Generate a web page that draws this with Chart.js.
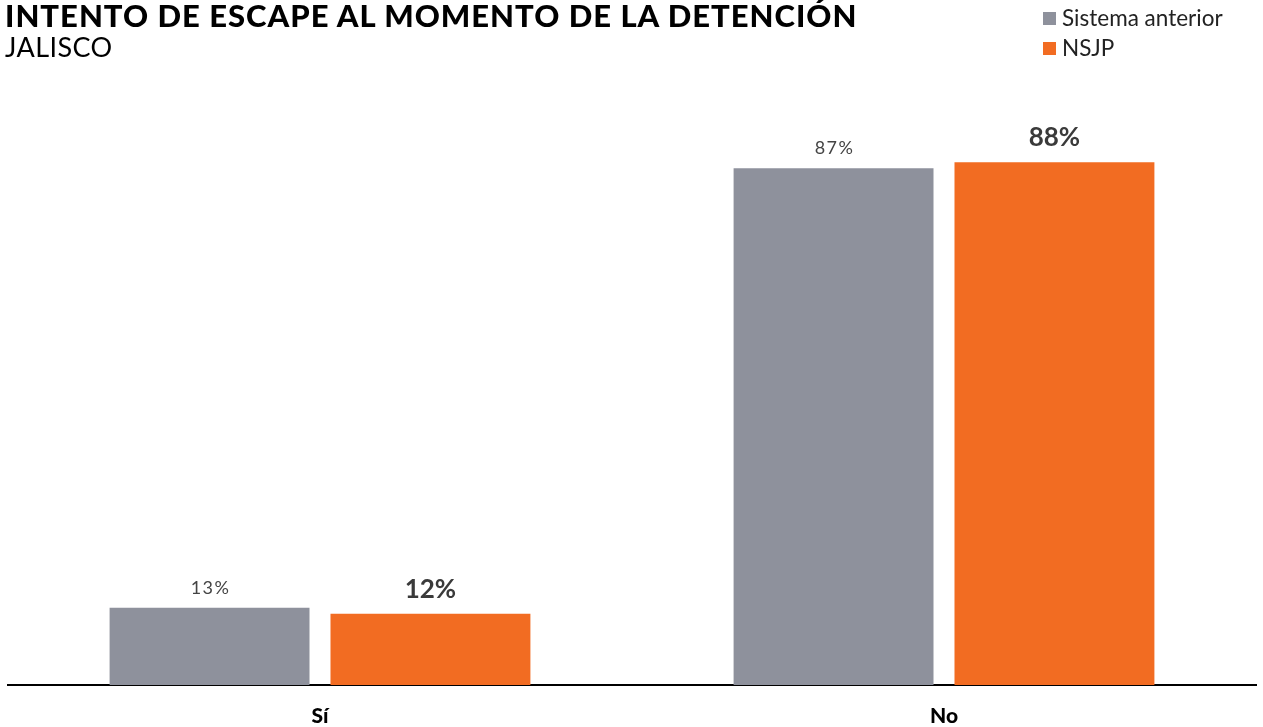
<!DOCTYPE html>
<html>
<head>
<meta charset="utf-8">
<script src="https://cdn.jsdelivr.net/npm/chart.js@4"></script>
<style>
    html, body { margin: 0; padding: 0; background: #fff; }
    body { width: 1263px; height: 727px; position: relative; overflow: hidden; font-family: Lato, sans-serif; }
    .chart-wrap { position: absolute; left: 0; top: 0; width: 1263px; height: 727px; }
    .title { position: absolute; left: 5px; top: -3px; font-size: 31px; line-height: 1.2; letter-spacing: 1px; font-weight: 900; color: #000; white-space: nowrap; }
    .subtitle { position: absolute; left: 5px; top: 31px; font-size: 27px; line-height: 1.2; letter-spacing: 0.4px; color: #000; }
    .legend { position: absolute; left: 1043px; top: 3px; font-size: 22.5px; color: #222; }
    .legend div { height: 30px; line-height: 30px; white-space: nowrap; }
    .legend span { display: inline-block; width: 13px; height: 13px; margin-right: 6px; vertical-align: 1px; }
</style>
</head>
<body>
<div class="chart-wrap"><canvas id="escapeChart"></canvas></div>
<div class="title">INTENTO DE ESCAPE AL MOMENTO DE LA DETENCIÓN</div>
<div class="subtitle">JALISCO</div>
<div class="legend">
    <div><span style="background:#8e919c"></span>Sistema anterior</div>
    <div><span style="background:#f26c22"></span>NSJP</div>
</div>
<script>
const categories = ['Sí', 'No'];
const seriesNames = ['Sistema anterior', 'NSJP'];
const sistemaAnterior = [13, 87];
const nsjp = [12, 88];

const GRAY = '#8e919c';
const ORANGE = '#f26c22';

// value labels above bars
const valueLabels = {
    id: 'valueLabels',
    afterDatasetsDraw(chart) {
        const ctx = chart.ctx;
        ctx.save();
        ctx.textAlign = 'center';
        ctx.textBaseline = 'alphabetic';
        chart.data.datasets.forEach((ds, i) => {
            const meta = chart.getDatasetMeta(i);
            meta.data.forEach((bar, idx) => {
                if (i === 0) {
                    ctx.font = '18px Lato';
                    ctx.letterSpacing = '1.5px';
                    ctx.fillStyle = '#444';
                    ctx.fillText(ds.data[idx] + '%', bar.x + 1, bar.y - 14);
                } else {
                    ctx.font = 'bold 26px Lato';
                    ctx.letterSpacing = '0px';
                    ctx.fillStyle = '#3a3a3a';
                    ctx.fillText(ds.data[idx] + '%', bar.x, bar.y - 16);
                }
            });
        });
        ctx.restore();
    }
};

const ctx = document.getElementById('escapeChart').getContext('2d');
new Chart(ctx, {
    type: 'bar',
    data: {
        labels: categories,
        datasets: [
            { label: seriesNames[0], data: sistemaAnterior, backgroundColor: GRAY },
            { label: seriesNames[1], data: nsjp, backgroundColor: ORANGE }
        ]
    },
    options: {
        responsive: true,
        maintainAspectRatio: false,
        animation: false,
        categoryPercentage: 0.708,
        barPercentage: 0.905,
        layout: { padding: { left: 8, right: 7, top: 91, bottom: 0 } },
        scales: {
            y: { display: false, min: 0, max: 100 },
            x: {
                grid: { display: false, drawTicks: false },
                border: { display: true, color: '#000', width: 2 },
                ticks: {
                    color: '#000',
                    padding: 21,
                    font: { family: 'Lato', size: 21, weight: 900, lineHeight: 1 }
                },
                afterFit(axis) { axis.height = 42; }
            }
        },
        plugins: {
            legend: { display: false },
            tooltip: { enabled: false }
        }
    },
    plugins: [valueLabels]
});
</script>
</body>
</html>
